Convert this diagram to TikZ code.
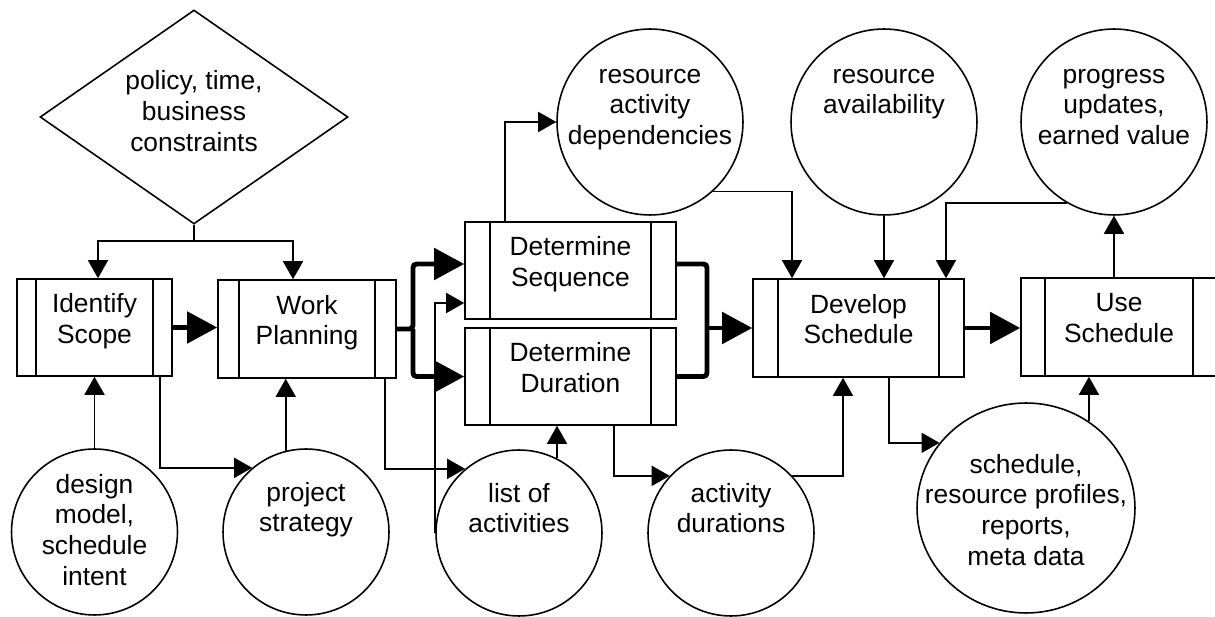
\documentclass[tikz,border=0pt]{standalone}
\usepackage{fontspec}
\setmainfont{Liberation Sans}
\usetikzlibrary{shapes.geometric,arrows.meta,positioning,calc}

\newcommand{\flowfont}{\fontsize{15}{17.5}\selectfont}

\tikzset{
  proc/.style={draw, line width=0.9pt, rectangle, align=center, font=\flowfont, inner sep=0pt,
    text depth=0.36cm,
    path picture={\draw[line width=0.9pt]
      ([xshift=#1]path picture bounding box.south west) -- ([xshift=#1]path picture bounding box.north west)
      ([xshift=-#1]path picture bounding box.south east) -- ([xshift=-#1]path picture bounding box.north east);}},
  proc/.default=0.48cm,
  decision/.style={draw, line width=0.9pt, diamond, aspect=1.44, align=center, font=\flowfont,
    inner sep=0pt, text depth=0.24cm, minimum width=6.16cm, minimum height=4.28cm},
  data/.style={draw, line width=0.9pt, circle, inner sep=0pt, minimum size=#1},
  data/.default=3.32cm,
  txt/.style={align=center, font=\flowfont, inner sep=0pt, execute at begin node=\strut},
  flow/.style={-{Triangle[length=0.36cm,width=0.4cm]}, line width=0.9pt},
  thickline/.style={line width=2.8pt},
  mainflow/.style={thickline, -{Triangle[length=0.6cm,width=0.62cm]}}
}

\begin{document}
\begin{tikzpicture}[x=0.02cm, y=-0.02cm]
    \useasboundingbox (0,0) rectangle (1215,617);

    % Process steps
    \node[decision] (cons) at (194,117) {policy, time,\\business\\constraints};
    \node[proc=0.38cm, minimum width=3.1cm, minimum height=1.94cm] (scope) at (94.5,327.5) {Identify\\Scope};
    \node[proc=0.42cm, minimum width=3.56cm, minimum height=1.96cm] (plan) at (307,329) {Work\\Planning};
    \node[proc=0.5cm, minimum width=4.22cm, minimum height=1.94cm] (seq) at (570.5,270.5) {Determine\\Sequence};
    \node[proc=0.5cm, minimum width=4.22cm, minimum height=1.94cm] (dur) at (570.5,376.5) {Determine\\Duration};
    \node[proc=0.5cm, minimum width=4.22cm, minimum height=1.96cm] (dev) at (858.5,328) {Develop\\Schedule};
    \node[proc=0.48cm, minimum width=3.92cm, minimum height=1.96cm] (use) at (1119,327) {Use\\Schedule};

    % Data stores
    \node[data] (intent) at (94.5,532) {};
    \node[txt, below=0.51cm of intent.north] (intent-t) {design\\model,\\schedule\\intent};
    \node[data] (strat) at (306,532) {};
    \node[txt, below=0.67cm of strat.north] (strat-t) {project\\strategy};
    \node[data] (acts) at (519,533) {};
    \node[txt, below=0.67cm of acts.north] (acts-t) {list of\\activities};
    \node[data] (durs) at (731,533) {};
    \node[txt, below=0.67cm of durs.north] (durs-t) {activity\\durations};
    \node[data=3.72cm] (deps) at (650,122) {};
    \node[txt, below=0.81cm of deps.north] (deps-t) {resource\\activity\\dependencies};
    \node[data=3.72cm] (avail) at (884,122) {};
    \node[txt, below=0.81cm of avail.north] (avail-t) {resource\\availability};
    \node[data=3.72cm] (prog) at (1114,122) {};
    \node[txt, below=0.81cm of prog.north] (prog-t) {progress\\updates,\\earned value};
    \node[draw, line width=0.9pt, ellipse, inner sep=0pt, minimum width=4.36cm, minimum height=4.2cm] (out) at (1026,508) {};
    \node[txt, below=1.03cm of out.north] (out-t) {schedule,\\resource profiles,\\reports,\\meta data};

    % Constraints
    \coordinate (split) at (194,241);
    \draw[line width=0.9pt] (cons.south) -- (split);
    \draw[flow] (split) -| ([xshift=0.07cm]scope.north);
    \draw[flow] (split) -| ([xshift=-0.28cm]plan.north);

    % Main flow
    \draw[mainflow] (scope.east) -- (scope.east -| plan.west);
    \coordinate (fork) at (413,329);
    \draw[mainflow, rounded corners=2pt] (plan.east) -- (fork) |- ([yshift=0.13cm]seq.west);
    \draw[mainflow, rounded corners=2pt] (fork) |- (dur.west);
    \coordinate (join) at (707,328);
    \draw[thickline, rounded corners=2pt] ([yshift=0.13cm]seq.east) -| (join) |- (dur.east);
    \draw[mainflow] (join) -- (join -| dev.west);
    \draw[mainflow] (dev.east) -- (dev.east -| use.west);

    % Inputs and outputs
    \draw[flow] (intent.north) -- (intent.north |- scope.south);
    \draw[flow] (strat.104) -- (strat.104 |- plan.south);
    \draw[flow] ([xshift=1.31cm]scope.south) |- (strat.130);
    \draw[flow] ([xshift=1.56cm]plan.south) |- (acts.130);
    \draw[flow] (acts.west) |- ([yshift=-0.65cm]seq.west);
    \draw[flow] (acts.63) -- (acts.63 |- dur.south);
    \draw[flow] ([xshift=0.87cm]dur.south) |- (durs.137);
    \draw[flow] (durs.43) -| ([xshift=-0.31cm]dev.south);
    \draw[flow] ([xshift=-1.31cm]seq.north) |- (deps.west);
    \draw[flow] (deps.-48) -| ([xshift=-1.33cm]dev.north);
    \draw[flow] (avail.south) -- (avail.south |- dev.north);
    \draw[flow] (prog.240) -| ([xshift=1.75cm]dev.north);
    \draw[flow] ([xshift=0.61cm]dev.south) |- (out.143);
    \draw[flow] (out.54) -- (out.54 |- use.south);
    \draw[flow] (prog.south |- use.north) -- (prog.south);
\end{tikzpicture}
\end{document}
